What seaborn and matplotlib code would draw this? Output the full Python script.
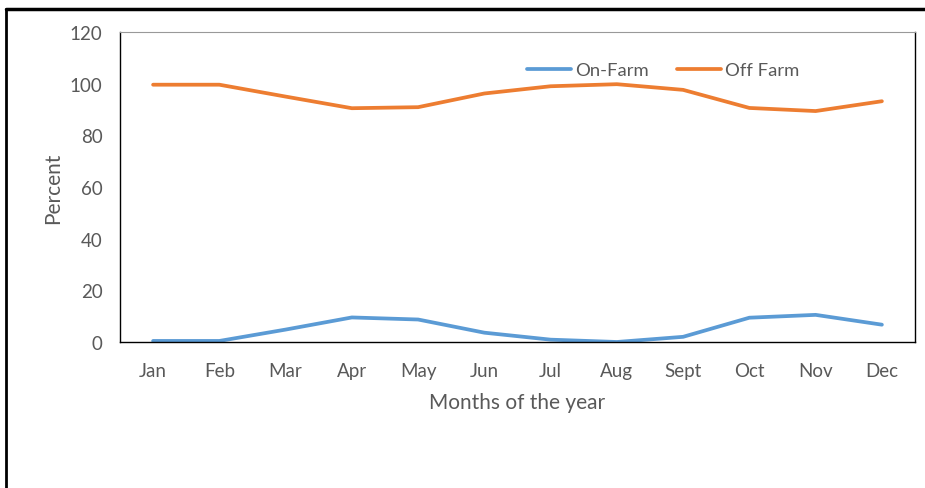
import pandas as pd
import seaborn as sns
import numpy as np
import matplotlib.pyplot as plt
from matplotlib.lines import Line2D

months = ["Jan", "Feb", "Mar", "Apr", "May", "Jun", "Jul", "Aug", "Sept", "Oct", "Nov", "Dec"]
on_farm = [0.4, 0.4, 4.8, 9.5, 8.7, 3.6, 0.9, 0.0, 2.0, 9.4, 10.5, 6.7]
off_farm = [99.6, 99.6, 95.0, 90.5, 90.9, 96.2, 99.0, 99.8, 97.6, 90.6, 89.4, 93.2]
series = ["On-Farm", "Off Farm"]
colors = ["#5B9BD5", "#ED7D31"]

df = pd.DataFrame({"month": months * 2,
                   "value": on_farm + off_farm,
                   "series": [series[0]] * 12 + [series[1]] * 12})
df["pos"] = list(range(12)) * 2

sns.set_style("white")
plt.rcParams["font.family"] = ["Lato", "DejaVu Sans"]

fig = plt.figure(figsize=(9.25, 4.89), dpi=100)
ax = fig.add_axes([0.1297, 0.2986, 0.8595, 0.6339])

sns.lineplot(data=df, x="pos", y="value", hue="series", palette=colors,
             linewidth=2.7, ax=ax, legend=False)

ax.set_xlim(-0.5, 11.5)
ax.set_ylim(0, 120)
ax.set_yticks(np.arange(0, 121, 20))
ax.set_xticks(range(12))
ax.set_xticklabels(months)
ax.tick_params(axis="both", length=0, labelsize=13.5, colors="#595959")
ax.tick_params(axis="x", pad=14.5)
ax.tick_params(axis="y", pad=12.5)

for s in ["left", "right", "bottom"]:
    ax.spines[s].set_color("black")
    ax.spines[s].set_linewidth(1)
ax.spines["top"].set_color("#999999")

ax.set_xlabel("Months of the year", fontsize=15, color="#595959", labelpad=9)
ax.set_ylabel("Percent", fontsize=15, color="#595959", labelpad=5)

handles = [Line2D([], [], color=c, linewidth=2.7) for c in colors]
ax.legend(handles, series, loc="center", bbox_to_anchor=(0.683, 0.877), ncol=2,
          frameon=False, fontsize=13.3, handlelength=2.4, handletextpad=0.2,
          columnspacing=1.5, labelcolor="#595959")

# outer frame of the picture
fig.add_artist(Line2D([0.006, 1.0], [0.979, 0.979], color="black", linewidth=2.5,
                      transform=fig.transFigure))
fig.add_artist(Line2D([0.006, 0.006], [0.0, 0.979], color="black", linewidth=2.0,
                      transform=fig.transFigure))

plt.savefig("out.png", dpi=100)
